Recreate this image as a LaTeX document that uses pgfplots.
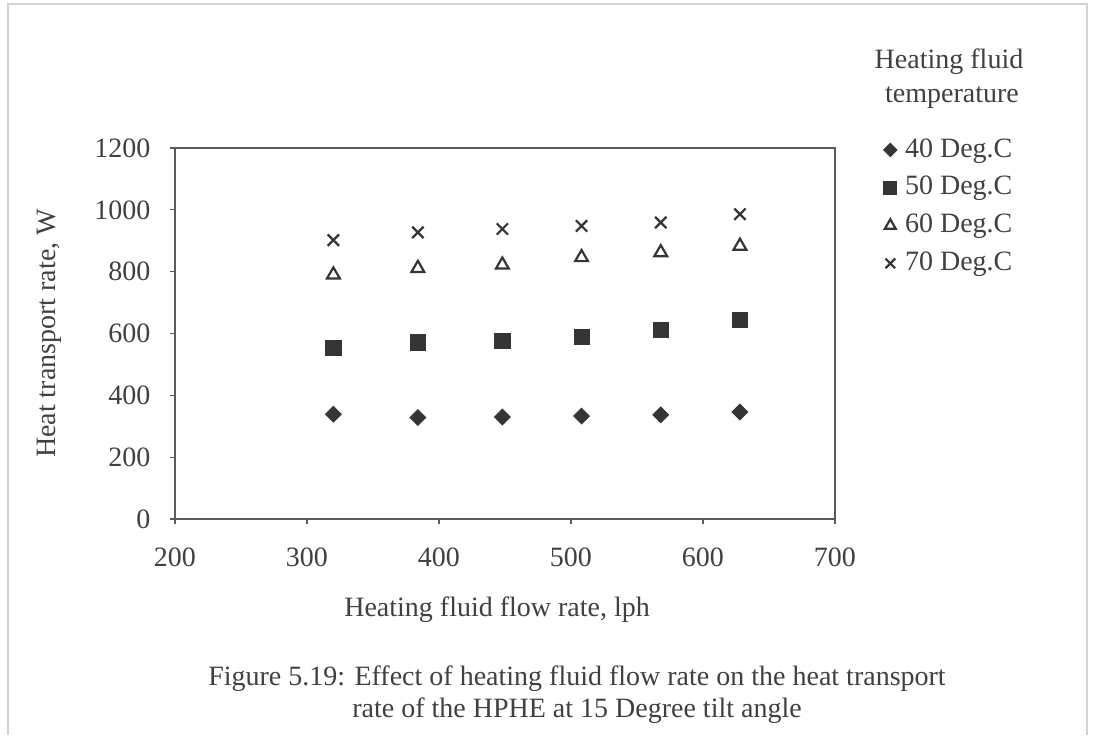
\documentclass[border=0pt]{standalone}
\usepackage{fontspec}
\setmainfont{Liberation Serif}
\usepackage{pgfplots}
\pgfplotsset{compat=1.18}
\definecolor{txt}{HTML}{404040}
\definecolor{mk}{HTML}{353535}
\definecolor{ax}{HTML}{5A5A5A}
\begin{document}
\fontsize{14}{16}\selectfont
\begin{tikzpicture}
\useasboundingbox (0,0) rectangle (546.5pt,367.5pt);
\draw[gray!35,line width=0.6pt] (4pt,0) -- (4pt,365.5pt) -- (543.5pt,365.5pt) -- (543.5pt,0);
\begin{axis}[
  at={(87.5pt,108pt)}, anchor=south west,
  scale only axis, width=330pt, height=185.5pt,
  xmin=200, xmax=700, ymin=0, ymax=1200,
  xtick={200,300,...,700}, ytick={0,200,...,1200},
  xtick pos=bottom, ytick pos=left, tick align=outside,
  major tick length=2.5pt,
  axis line style={ax, line width=0.7pt},
  tick style={ax, line width=0.6pt},
  /pgf/number format/assume math mode=true,
  /pgf/number format/1000 sep={},
  tick label style={font=\fontsize{14}{16}\selectfont, text=txt},
  xticklabel style={yshift=-7pt},
  yticklabel style={xshift=-5pt},
  xlabel={Heating fluid flow rate, lph},
  ylabel={Heat transport rate, W},
  label style={font=\fontsize{14}{16}\selectfont, text=txt},
  xlabel style={at={(axis description cs:0.488,-0.245)}, anchor=center},
  ylabel style={at={(axis description cs:-0.19,0.5)}, anchor=center},
  legend style={at={(1.073,1.032)}, anchor=north west, draw=none, fill=none,
    inner sep=0pt, row sep=5.5pt, font=\fontsize{14}{16}\selectfont, text=txt,
    nodes={inner sep=1pt},
    /tikz/every odd column/.append style={column sep=3pt}},
  legend cell align=left,
  legend image code/.code={\draw[mark repeat=2,mark phase=2,#1,/tikz/every mark/.append style={scale=0.85}] plot coordinates {(0cm,0cm) (0.14cm,0cm) (0.28cm,0cm)};},
]
\addplot[only marks, mark=square*, mark size=2.8pt, mk, mark options={fill=mk, rotate=45}] coordinates {
 (320,339) (384,328) (448,330) (508,333) (568,337) (628,346)};
\addlegendentry{40 Deg.C}
\addplot[only marks, mark=square*, mark size=3.8pt, mk, mark options={fill=mk}] coordinates {
 (320,554) (384,571) (448,576) (508,589) (568,612) (628,644)};
\addlegendentry{50 Deg.C}
\addplot[only marks, mark=triangle, mark size=3.7pt, mk, mark options={line width=1.1pt}] coordinates {
 (320,790) (384,811) (448,822) (508,846) (568,862) (628,883)};
\addlegendentry{60 Deg.C}
\addplot[only marks, mark=x, mark size=4pt, mk, mark options={line width=1.1pt}] coordinates {
 (320,902) (384,927) (448,938) (508,948) (568,959) (628,986)};
\addlegendentry{70 Deg.C}
\end{axis}
\node[text=txt, anchor=center] at (474.5pt,336.5pt) {Heating fluid};
\node[text=txt, anchor=center] at (476pt,318.5pt) {temperature};
\node[text=txt, anchor=center] at (288.5pt,28pt) {Figure 5.19: Effect of heating fluid flow rate on the heat transport};
\node[text=txt, anchor=center] at (288.5pt,12pt) {rate of the HPHE at 15 Degree tilt angle};
\end{tikzpicture}
\end{document}
